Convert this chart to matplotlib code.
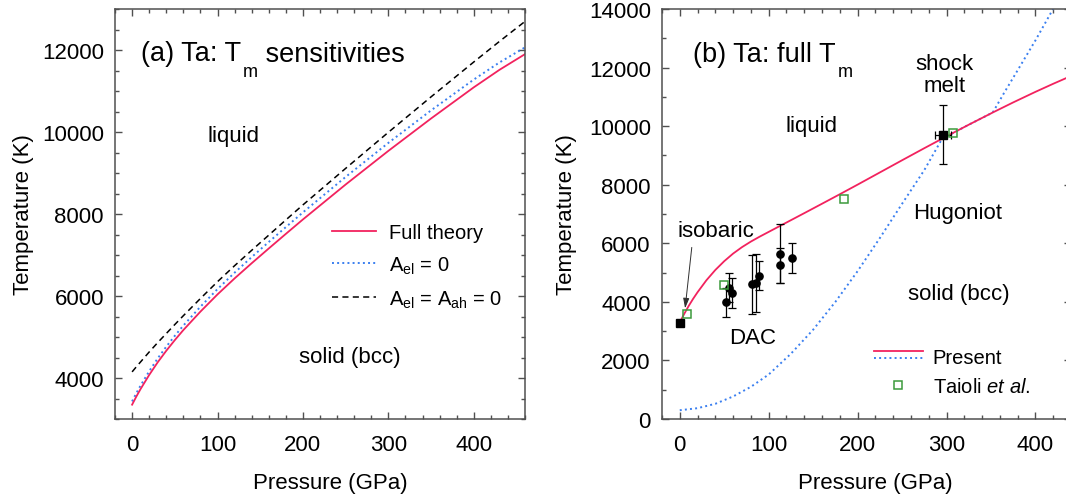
import numpy as np
import matplotlib
matplotlib.use("Agg")
import matplotlib.pyplot as plt
from matplotlib.ticker import MultipleLocator
from matplotlib.legend_handler import HandlerBase
from matplotlib.lines import Line2D

plt.rcParams['font.family'] = ['Liberation Sans', 'DejaVu Sans']
plt.rcParams['mathtext.fontset'] = 'custom'
plt.rcParams['mathtext.rm'] = 'Liberation Sans'
plt.rcParams['mathtext.it'] = 'Liberation Sans:italic'

RED = '#f2225e'
BLUE = '#3a7ff0'
GREEN = '#3c9a3c'
AXC = '#505050'

# (a) melting curve sensitivities
p_a = [0, 5, 10, 20, 30, 40, 50, 60, 80, 100, 120, 140, 160, 180, 200, 250, 300,
       350, 400, 430, 460]
tm_full = [3350, 3550, 3735, 4075, 4385, 4665, 4925, 5170, 5620, 6040, 6430, 6800,
           7160, 7516, 7868, 8720, 9540, 10330, 11090, 11516, 11900]
tm_no_el = [3430, 3632, 3820, 4165, 4480, 4765, 5030, 5280, 5740, 6170, 6570, 6950,
            7318, 7681, 8040, 8905, 9735, 10528, 11280, 11696, 12065]
tm_no_el_ah = [4150, 4275, 4395, 4635, 4865, 5085, 5305, 5520, 5940, 6350, 6740,
               7115, 7485, 7856, 8223, 9113, 9993, 10858, 11708, 12209, 12698]

# (b) full melting curve
p_b = [0, 5, 10, 15, 20, 30, 40, 50, 60, 70, 80, 90, 100, 113, 125, 140, 160, 180,
       200, 225, 250, 275, 300, 325, 352, 375, 400, 420, 440]
tm_b = [3300, 3590, 3860, 4105, 4330, 4740, 5090, 5390, 5650, 5870, 6060, 6230,
        6390, 6598, 6790, 7030, 7352, 7676, 8004, 8420, 8836, 9248, 9653, 10050,
        10467, 10812, 11172, 11448, 11714]

# principal Hugoniot
p_hug = [0, 20, 40, 60, 80, 100, 125, 150, 175, 200, 225, 250, 275, 295, 325, 352,
         365, 380, 400, 420, 435]
t_hug = [300, 370, 520, 770, 1100, 1520, 2230, 3050, 4000, 5050, 6180, 7350, 8500,
         9570, 10050, 10467, 11150, 11910, 12930, 14010, 14800]

# DAC measurements
p_dac = [52, 55.4, 58.8, 80.9, 85.7, 89.1, 113, 113, 125.8]
t_dac = [3980, 4490, 4300, 4600, 4640, 4890, 5650, 5250, 5500]
t_dac_err = [500, 500, 500, 1000, 1000, 500, 1000, 600, 500]

# zero-pressure melting point and shock melting point
p_iso, t_iso = [0], [3270]
p_shock, t_shock = [295.5], [9710]
p_shock_err, t_shock_err = [9], [1000]

# Taioli et al.
p_taioli = [7.9, 49.8, 184.6, 307.4]
t_taioli = [3600, 4580, 7510, 9760]


class HandlerStacked(HandlerBase):
    # two line samples drawn one above the other
    def create_artists(self, legend, orig_handle, xdescent, ydescent, width,
                       height, fontsize, trans):
        mid = (height - ydescent) / 2
        out = []
        for h, dy in zip(orig_handle, (3.4, -1.4)):
            ln = Line2D([-xdescent, width - xdescent], [mid + dy, mid + dy],
                        color=h.get_color(), linestyle=h.get_linestyle(),
                        linewidth=h.get_linewidth())
            ln.set_transform(trans)
            out.append(ln)
        return out


def style_axes(ax, ylim, yminor):
    ax.set_ylim(*ylim)
    ax.xaxis.set_major_locator(MultipleLocator(100))
    ax.xaxis.set_minor_locator(MultipleLocator(20))
    ax.yaxis.set_major_locator(MultipleLocator(2000))
    ax.yaxis.set_minor_locator(MultipleLocator(yminor))
    ax.tick_params(which='both', direction='in', top=True, right=True,
                   color=AXC, width=1, labelsize=16)
    ax.tick_params(which='major', length=5)
    ax.tick_params(which='minor', length=3)
    ax.tick_params(axis='x', pad=11)
    ax.tick_params(axis='y', pad=8)
    for s in ax.spines.values():
        s.set_color(AXC)
        s.set_linewidth(1.1)
    ax.set_xlabel('Pressure (GPa)', fontsize=16)
    ax.set_ylabel('Temperature (K)', fontsize=16)


def title_with_sub(ax, x, y, head, sub, tail, dy):
    t = ax.text(x, y, head, fontsize=19.5, va='baseline')
    s = ax.annotate(sub, xy=(1, 0), xycoords=t, xytext=(1.5, dy),
                    textcoords='offset points', fontsize=13, va='baseline')
    if tail:
        ax.annotate(tail, xy=(1, 0), xycoords=s, xytext=(0, -dy + 6.9),
                    textcoords='offset points', fontsize=19.5, va='baseline')


fig = plt.figure(figsize=(10.66, 5.02), dpi=100)
ax1 = fig.add_axes([0.1079, 0.1633, 0.3846, 0.8167])
ax2 = fig.add_axes([0.621, 0.1633, 0.3837, 0.8167])

# ---- (a)
h3, = ax1.plot(p_a, tm_no_el_ah, color='k', lw=1.1, ls=(0, (4, 2.8)),
               label=r'A$_\mathrm{el}$ = A$_\mathrm{ah}$ = 0')
h2, = ax1.plot(p_a, tm_no_el, color=BLUE, lw=1.4, ls=':',
               label=r'A$_\mathrm{el}$ = 0')
h1, = ax1.plot(p_a, tm_full, color=RED, lw=1.3, label='Full theory')
ax1.set_xlim(-20, 460)
style_axes(ax1, (3000, 13000), 500)
ax1.xaxis.set_label_coords(0.524, -0.128)
ax1.yaxis.set_label_coords(-0.198, 0.5)

title_with_sub(ax1, 10.5, 11746, '(a) Ta: T', 'm', ' sensitivities', -6.7)
ax1.text(119, 9910, 'liquid', fontsize=16, ha='center', va='center')
ax1.text(254.6, 4530, 'solid (bcc)', fontsize=16, ha='center', va='center')

ax1.legend(handles=[h1, h2, h3], loc='upper left', bbox_to_anchor=(0.5285, 0.478),
           frameon=False, fontsize=14.5, handlelength=2.19, handletextpad=0.68,
           labelspacing=0.62, borderpad=0, borderaxespad=0)

# ---- (b)
hb_blue, = ax2.plot(p_hug, t_hug, color=BLUE, lw=1.4, ls=':')
hb_red, = ax2.plot(p_b, tm_b, color=RED, lw=1.3)
ax2.errorbar(p_dac, t_dac, yerr=t_dac_err, fmt='o', color='k', ms=5.2,
             elinewidth=0.9, capsize=2.6, capthick=0.9, zorder=4)
ax2.errorbar(p_shock, t_shock, xerr=p_shock_err, yerr=t_shock_err, fmt='s',
             color='k', ms=6, elinewidth=0.9, capsize=2.6, capthick=0.9, zorder=4)
ax2.plot(p_iso, t_iso, 's', color='k', ms=6, zorder=4)
hb_green, = ax2.plot(p_taioli, t_taioli, 's', mfc='none', mec=GREEN, mew=1.1,
                     ms=6, zorder=5)
ax2.set_xlim(-20, 440)
style_axes(ax2, (0, 14000), 1000)
ax2.xaxis.set_label_coords(0.522, -0.128)
ax2.yaxis.set_label_coords(-0.208, 0.5)

title_with_sub(ax2, 15.3, 12239, '(b) Ta: full T', 'm', '', -7.1)
ax2.text(147.8, 10017, 'liquid', fontsize=16, ha='center', va='center')
ax2.text(298, 11760, 'shock\nmelt', fontsize=16, ha='center', va='center',
         linespacing=1.1)
ax2.text(313, 7057, 'Hugoniot', fontsize=16, ha='center', va='center')
ax2.text(313.4, 4297, 'solid (bcc)', fontsize=16, ha='center', va='center')
ax2.text(81.5, 2783, 'DAC', fontsize=16, ha='center', va='center')
ax2.annotate('isobaric', xy=(6, 3780), xytext=(41, 6427), fontsize=16,
             ha='center', va='center')
ax2.annotate('', xy=(6, 3780), xytext=(13.5, 5860),
             arrowprops=dict(arrowstyle='-|>,head_length=0.6,head_width=0.18',
                             color='#303030', lw=0.7, shrinkA=0, shrinkB=0))

ax2.legend(handles=[(hb_red, hb_blue), hb_green],
           labels=['Present', r'Taioli $\mathit{et\ al.}$'],
           handler_map={tuple: HandlerStacked()}, loc='upper left',
           bbox_to_anchor=(0.518, 0.173), frameon=False, fontsize=14.5,
           handlelength=2.42, handletextpad=0.5, labelspacing=0.5,
           borderpad=0, borderaxespad=0)

fig.savefig('out.png', dpi=100)
